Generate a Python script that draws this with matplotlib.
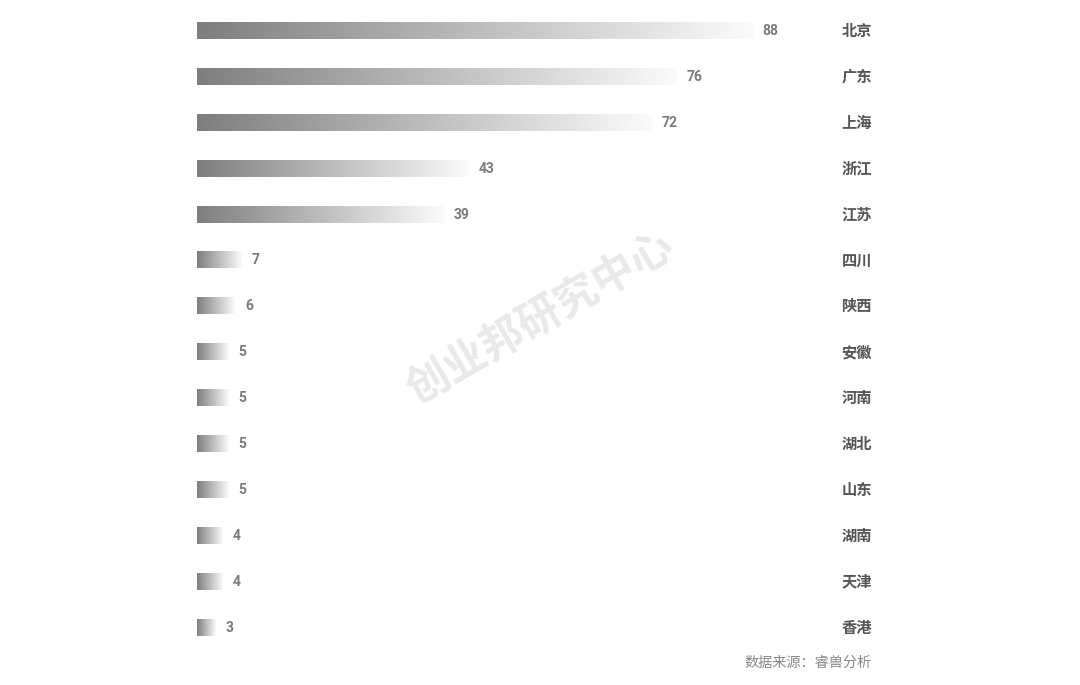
import matplotlib.pyplot as plt
import numpy as np
from matplotlib.colors import LinearSegmentedColormap
from matplotlib.transforms import blended_transform_factory

plt.rcParams['font.family'] = ['Noto Sans CJK SC', 'DejaVu Sans']

regions = ["北京", "广东", "上海", "浙江", "江苏", "四川", "陕西",
           "安徽", "河南", "湖北", "山东", "湖南", "天津", "香港"]
counts = [88, 76, 72, 43, 39, 7, 6, 5, 5, 5, 5, 4, 4, 3]
source = "数据来源：睿兽分析"
watermark = "创业邦研究中心"

W, H = 1080, 685
fig = plt.figure(figsize=(W / 100, H / 100), dpi=100)
fig.patch.set_facecolor("white")

# axes: x from 197px, 100 units = 631px; 14 rows of ~45.9px starting at y=8px
ax = fig.add_axes([197 / W, 1 - 650.6 / H, 631 / W, 642.6 / H])
ax.set_xlim(0, 100)
ax.set_ylim(len(regions) - 0.5, -0.5)
ax.axis("off")

cmap = LinearSegmentedColormap.from_list("fade", ["#7e7e7e", "#fbfbfb"])
grad = np.linspace(0, 1, 256).reshape(1, -1)
bh = 0.35

for i, (name, v) in enumerate(zip(regions, counts)):
    ax.imshow(grad, cmap=cmap, aspect="auto", interpolation="bilinear",
              extent=[0, v, i + bh / 2, i - bh / 2], zorder=2)
    ax.text(v + 1.6, i, str(v), ha="left", va="center", fontsize=10,
            fontweight="bold", color="#7a7a7a", family=["Roboto", "DejaVu Sans"])
    ax.text(872 / W, i, name, ha="right", va="center", fontsize=11,
            fontweight="bold", color="#555555",
            transform=blended_transform_factory(fig.transFigure, ax.transData))

ax.set_xlim(0, 100)
ax.set_ylim(len(regions) - 0.5, -0.5)

fig.text(540 / W, 1 - 318 / H, watermark, rotation=30, ha="center", va="center",
         fontsize=31, fontweight="bold", color="#e9e9e9", zorder=0)
fig.text(872 / W, 1 - 663 / H, source, ha="right", va="center",
         fontsize=10.2, color="#888888")

fig.savefig("out.png", dpi=100, facecolor="white")
